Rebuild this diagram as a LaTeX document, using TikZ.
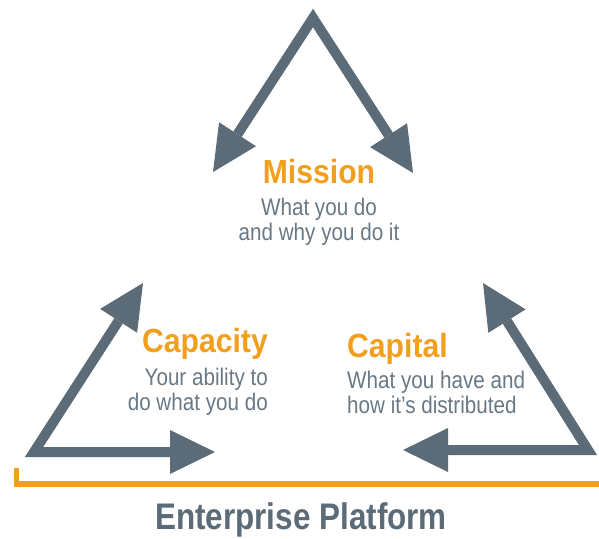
\documentclass[tikz,border=0pt]{standalone}
\usepackage{fontspec}
\setmainfont{Liberation Sans}
\newfontfamily\titlefont[FakeStretch=0.9]{Liberation Sans}
\newfontfamily\bodyfont[FakeStretch=0.86]{Liberation Sans}
\newfontfamily\platformfont[FakeStretch=0.85]{Liberation Sans}
\usetikzlibrary{arrows.meta}
\definecolor{slate}{HTML}{5B6B78}
\definecolor{slatetext}{HTML}{687885}
\definecolor{amber}{HTML}{F39F1E}

\begin{document}
\begin{tikzpicture}[x=1pt, y=-1pt, line join=miter]
    \tikzstyle{arrow_style} = [draw=slate, line width=10pt, {Triangle[length=45pt,width=44pt,line width=0pt]}-{Triangle[length=45pt,width=44pt,line width=0pt]}]
    \tikzstyle{title_style} = [text=amber, inner sep=0, font=\titlefont\bfseries\fontsize{33.5}{36}\selectfont]
    \tikzstyle{body_style} = [text=slatetext, inner sep=0, font=\bodyfont\fontsize{24}{25}\selectfont]
    \tikzstyle{base_style} = [draw=amber, line width=5.5pt]
    \useasboundingbox (0,0) rectangle (599,538);

    \coordinate (m_apex) at (313,18);
    \coordinate (m_left) at (213,172);
    \coordinate (m_right) at (413,173);
    \coordinate (cy_apex) at (34,452);
    \coordinate (cy_up) at (143,283);
    \coordinate (cy_right) at (215,452);
    \coordinate (cl_apex) at (588,450);
    \coordinate (cl_up) at (483,283);
    \coordinate (cl_left) at (403,450);

    \draw[arrow_style] (m_left) -- (m_apex) -- (m_right);
    \draw[arrow_style] (cy_up) -- (cy_apex) -- (cy_right);
    \draw[arrow_style] (cl_up) -- (cl_apex) -- (cl_left);

    \node[title_style, anchor=base] (mission) at (319,183) {Mission};
    \node[body_style, align=center, anchor=base] (mission_text) at (319,240) {What you do\\and why you do it};
    \node[title_style, anchor=base east] (capacity) at (268,352) {Capacity};
    \node[body_style, align=right, anchor=base east] (capacity_text) at (268,410) {Your ability to\\do what you do};
    \node[title_style, anchor=base west] (capital) at (347,357) {Capital};
    \node[body_style, align=left, anchor=base west] (capital_text) at (347,413) {What you have and\\how it’s distributed};

    \coordinate (p_start) at (16.5,468);
    \coordinate (p_corner) at (16.5,484);
    \coordinate (p_end) at (599,484);
    \draw[base_style] (p_start) -- (p_corner) -- (p_end);
    \node[text=slate, inner sep=0, font=\platformfont\bfseries\fontsize{37}{40}\selectfont, anchor=base] (platform) at (301,529.5) {Enterprise Platform};
\end{tikzpicture}
\end{document}
